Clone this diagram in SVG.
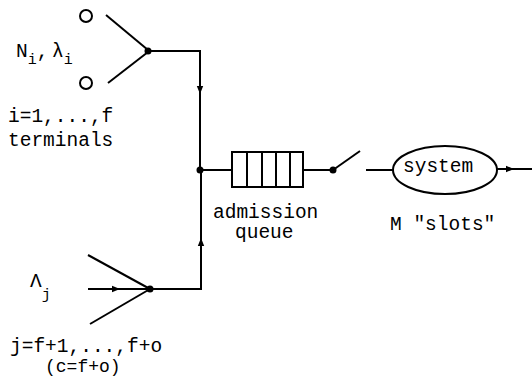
<svg xmlns="http://www.w3.org/2000/svg" width="532" height="377" viewBox="0 0 532 377">
<style>
.ln{stroke:#000;stroke-width:2;fill:none}
.t{font-family:"Liberation Mono","DejaVu Sans Mono",monospace;font-size:19.5px;fill:#000}
.s{font-size:15px}
.dot{fill:#000}
</style>
<defs>
<marker id="ar" viewBox="0 0 10 10" refX="5" refY="5" markerWidth="8" markerHeight="8" markerUnits="userSpaceOnUse" orient="auto">
<path d="M0,1 L10,5 L0,9 z" fill="#000"/>
</marker>
</defs>
<rect width="532" height="377" fill="#fff"/>
<g id="terminals">
<circle cx="86" cy="16" r="6" class="ln"/>
<circle cx="86" cy="83" r="6" class="ln"/>
<text class="t" x="16" y="57">N<tspan class="s" dy="7">i</tspan><tspan dy="-7">,</tspan></text>
<text class="t" x="52" y="57">λ<tspan class="s" dy="7">i</tspan></text>
<text class="t" x="8" y="122">i=1,...,f</text>
<text class="t" x="8" y="146">terminals</text>
</g>
<g id="sources">
<text class="t" x="30" y="287">Λ<tspan class="s" dy="12">j</tspan></text>
<text class="t" x="10" y="352">j=f+1,...,f+o</text>
<text class="t" x="45" y="372" style="font-size:18px">(c=f+o)</text>
</g>
<g id="queue">
<rect x="232" y="152" width="71" height="35" class="ln"/>
<path d="M247,152V187M262,152V187M276,152V187M290,152V187" class="ln"/>
<text class="t" x="213" y="218">admission</text>
<text class="t" x="235" y="238">queue</text>
</g>
<g id="switch">
<circle cx="333" cy="170" r="3.5" class="dot"/>
<path d="M333,170L360,151" class="ln"/>
</g>
<g id="system">
<ellipse cx="445" cy="170" rx="52" ry="24" class="ln"/>
<text class="t" x="403" y="172">system</text>
<text class="t" x="390" y="230">M "slots"</text>
</g>
<g id="connectors">
<path d="M106,15L148,50" class="ln"/>
<path d="M108,83L148,52" class="ln"/>
<circle cx="148" cy="51" r="3.5" class="dot"/>
<path d="M148,51H200V90" class="ln" marker-end="url(#ar)"/>
<path d="M200,90V170" class="ln"/>
<path d="M88,255L150,289" class="ln"/>
<path d="M90,324L150,289" class="ln"/>
<path d="M88,289H116" class="ln" marker-end="url(#ar)"/>
<path d="M116,289H150" class="ln"/>
<circle cx="150" cy="289" r="3.5" class="dot"/>
<path d="M150,289H201V242" class="ln" marker-end="url(#ar)"/>
<path d="M201,242V170" class="ln"/>
<circle cx="200" cy="170" r="3.5" class="dot"/>
<path d="M200,170H232" class="ln"/>
<path d="M303,170H333" class="ln"/>
<path d="M366,170H393" class="ln"/>
<path d="M497,169H510" class="ln" marker-end="url(#ar)"/>
<path d="M510,169H532" class="ln"/>
</g>
</svg>
